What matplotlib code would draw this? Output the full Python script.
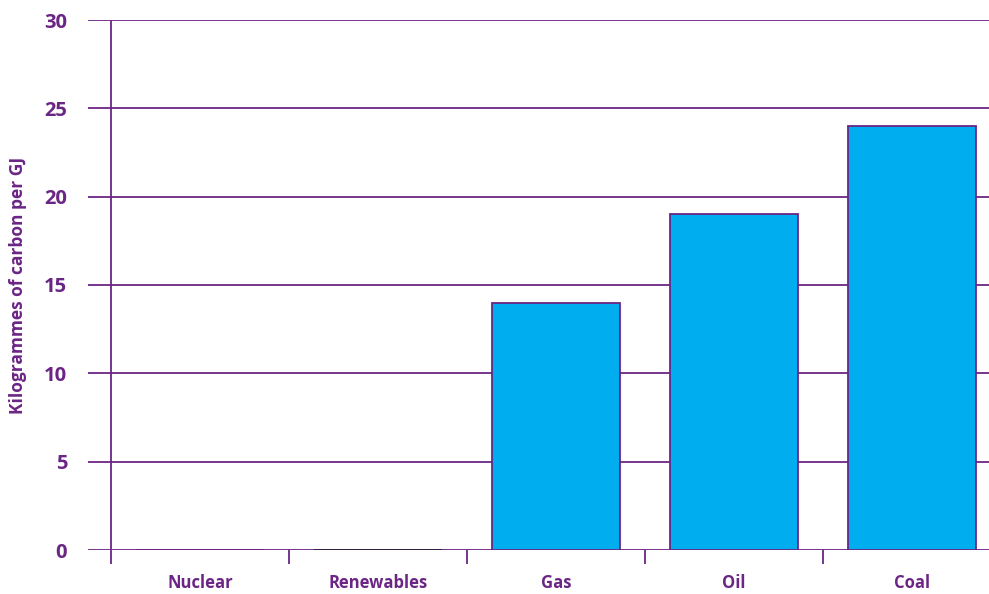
import matplotlib
matplotlib.use("Agg")
import matplotlib.pyplot as plt
import numpy as np

categories = ["Nuclear", "Renewables", "Gas", "Oil", "Coal"]
values = [0, 0, 14, 19, 24]
yticks = [0, 5, 10, 15, 20, 25, 30]

purple = "#6b2585"
blue = "#00aeef"
edge_colors = [purple, "#2b1d3a", purple, purple, purple]

plt.rcParams['font.family'] = ['Open Sans', 'DejaVu Sans']

W, H = 989, 594
fig = plt.figure(figsize=(W / 100, H / 100), dpi=100)
ax = fig.add_axes([88 / W, 44 / H, 901 / W, 530 / H])

x = np.arange(len(categories)) + 0.5
ax.bar(x, values, width=0.72, color=blue, edgecolor=edge_colors, linewidth=1.3, zorder=3)

for s in ax.spines.values():
    s.set_visible(False)

ax.set_yticks(yticks)
ax.yaxis.grid(True, color=purple, linewidth=1.3, zorder=1)
ax.tick_params(axis='y', length=0, pad=15, labelsize=14.5, labelcolor=purple)
for lbl in ax.get_yticklabels():
    lbl.set_fontweight('bold')

ax.axvline(0, color=purple, linewidth=1.3, zorder=2)

ax.set_xticks(x)
ax.set_xticklabels(categories, fontsize=12, fontweight='bold', color=purple)
ax.tick_params(axis='x', which='major', length=0, pad=17)
ax.set_xticks(np.arange(0, 6), minor=True)
ax.tick_params(axis='x', which='minor', length=10, width=1.3, color=purple, direction='out')

ax.set_xlim(-0.129, 4.933)
ax.set_ylim(0, 30)

fig.text(18 / W, (594 - 285) / H, "Kilogrammes of carbon per GJ", rotation=90,
         ha='center', va='center', fontsize=12.5, fontweight='bold', color=purple)

fig.savefig("out.png", dpi=100)
